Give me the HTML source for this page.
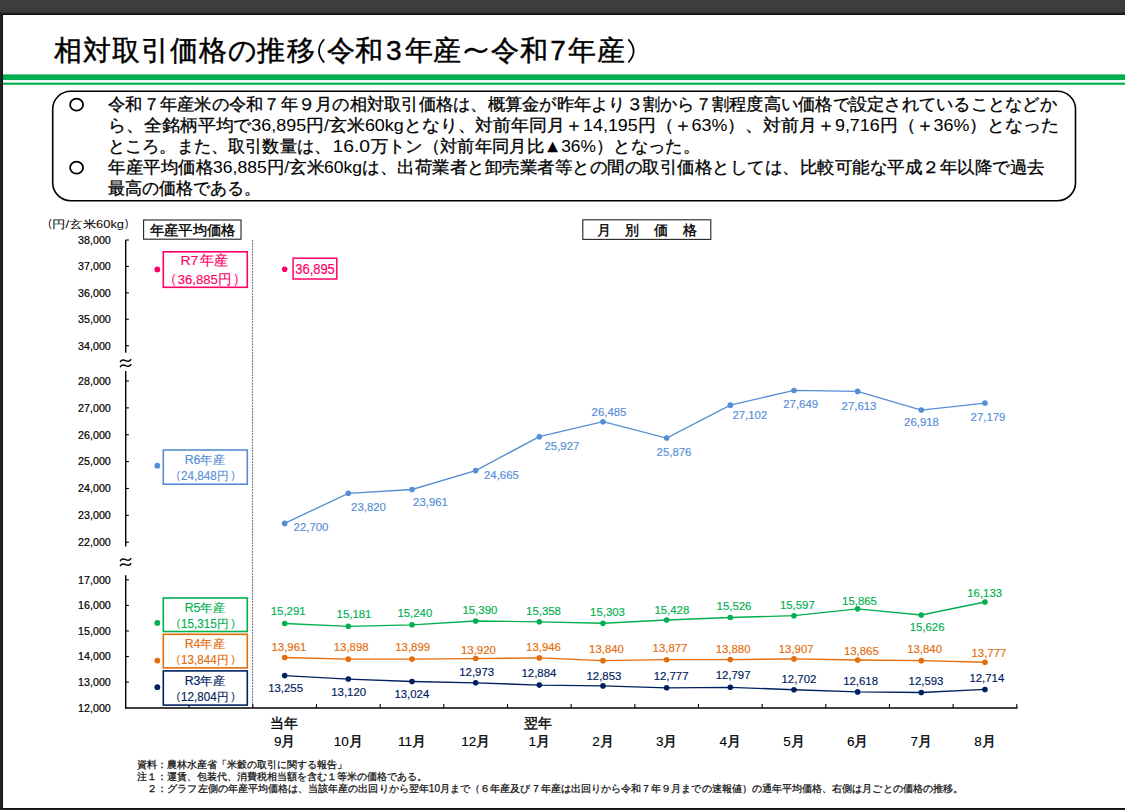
<!DOCTYPE html>
<html><head><meta charset="utf-8"><title>相対取引価格の推移</title>
<style>
html,body{margin:0;padding:0;background:#222;}
body{width:1125px;height:810px;overflow:hidden;font-family:"Liberation Sans", sans-serif;}
svg{display:block;font-family:"Liberation Sans", sans-serif;}
</style></head><body>
<svg width="1125" height="810" viewBox="0 0 1125 810">
<rect x="0" y="0" width="1125" height="810" fill="#222"/>
<rect x="0" y="0" width="1125" height="12.5" fill="#3d3d3d"/>
<rect x="2" y="14" width="1123" height="795" fill="#111"/>
<rect x="3" y="15" width="1122" height="793" fill="#fff"/>
<text x="67.7" y="60" font-size="28" fill="#000" stroke="#000" stroke-width="0.45" text-anchor="middle">相</text>
<text x="96.8" y="60" font-size="28" fill="#000" stroke="#000" stroke-width="0.45" text-anchor="middle">対</text>
<text x="125.9" y="60" font-size="28" fill="#000" stroke="#000" stroke-width="0.45" text-anchor="middle">取</text>
<text x="155.0" y="60" font-size="28" fill="#000" stroke="#000" stroke-width="0.45" text-anchor="middle">引</text>
<text x="184.1" y="60" font-size="28" fill="#000" stroke="#000" stroke-width="0.45" text-anchor="middle">価</text>
<text x="213.2" y="60" font-size="28" fill="#000" stroke="#000" stroke-width="0.45" text-anchor="middle">格</text>
<text x="242.3" y="60" font-size="28" fill="#000" stroke="#000" stroke-width="0.45" text-anchor="middle">の</text>
<text x="271.4" y="60" font-size="28" fill="#000" stroke="#000" stroke-width="0.45" text-anchor="middle">推</text>
<text x="300.5" y="60" font-size="28" fill="#000" stroke="#000" stroke-width="0.45" text-anchor="middle">移</text>
<path d="M324.2 39.3 Q313.8 51 324.2 62.6" fill="none" stroke="#000" stroke-width="1.7"/>
<text x="341.3" y="60" font-size="28" fill="#000" stroke="#000" stroke-width="0.45" text-anchor="middle">令</text>
<text x="369.3" y="60" font-size="28" fill="#000" stroke="#000" stroke-width="0.45" text-anchor="middle">和</text>
<text x="393.8" y="60" font-size="28" fill="#000" stroke="#000" stroke-width="0.45" text-anchor="middle">3</text>
<text x="418.6" y="60" font-size="28" fill="#000" stroke="#000" stroke-width="0.45" text-anchor="middle">年</text>
<text x="447.1" y="60" font-size="28" fill="#000" stroke="#000" stroke-width="0.45" text-anchor="middle">産</text>
<path d="M465.6 52.3 C468.5 48.6 472 48.4 476 50.3 C480 52.3 483.5 52.7 486.4 49.2" fill="none" stroke="#000" stroke-width="2.5" stroke-linecap="round"/>
<text x="505.1" y="60" font-size="28" fill="#000" stroke="#000" stroke-width="0.45" text-anchor="middle">令</text>
<text x="533.5" y="60" font-size="28" fill="#000" stroke="#000" stroke-width="0.45" text-anchor="middle">和</text>
<text x="558.0" y="60" font-size="28" fill="#000" stroke="#000" stroke-width="0.45" text-anchor="middle">7</text>
<text x="582.0" y="60" font-size="28" fill="#000" stroke="#000" stroke-width="0.45" text-anchor="middle">年</text>
<text x="610.8" y="60" font-size="28" fill="#000" stroke="#000" stroke-width="0.45" text-anchor="middle">産</text>
<path d="M628.3 39.4 Q639 51 628.3 62.5" fill="none" stroke="#000" stroke-width="1.7"/>
<rect x="3" y="74.4" width="1122" height="5.7" fill="#00b050"/>
<rect x="3" y="82.6" width="1122" height="2.2" fill="#00b050"/>
<rect x="52.7" y="91.2" width="1022.8" height="109.5" rx="18" ry="18" fill="none" stroke="#000" stroke-width="1.6"/>
<text x="108" y="110.3" font-size="17" fill="#000" stroke="#000" stroke-width="0.3" textLength="949.0" lengthAdjust="spacingAndGlyphs">令和７年産米の令和７年９月の相対取引価格は、概算金が昨年より３割から７割程度高い価格で設定されていることなどか</text>
<text x="108" y="131.2" font-size="17" fill="#000" stroke="#000" stroke-width="0.3" textLength="951.0" lengthAdjust="spacingAndGlyphs">ら、全銘柄平均で<tspan stroke-width="0">36,895</tspan>円<tspan stroke-width="0">/</tspan>玄米<tspan stroke-width="0">60kg</tspan>となり、対前年同月＋<tspan stroke-width="0">14,195</tspan>円（＋<tspan stroke-width="0">63%</tspan>）、対前月＋<tspan stroke-width="0">9,716</tspan>円（＋<tspan stroke-width="0">36%</tspan>）となった</text>
<text x="108" y="152.1" font-size="17" fill="#000" stroke="#000" stroke-width="0.3" textLength="223.0" lengthAdjust="spacingAndGlyphs">ところ。また、取引数量は、</text>
<text x="332.5" y="152.1" font-size="17" fill="#000" stroke="#000" stroke-width="0.3" textLength="37.5" lengthAdjust="spacingAndGlyphs"><tspan stroke-width="0">16.0</tspan></text>
<text x="370.5" y="152.1" font-size="17" fill="#000" stroke="#000" stroke-width="0.3" textLength="329.5" lengthAdjust="spacingAndGlyphs">万トン（対前年同月比▲<tspan stroke-width="0">36%</tspan>）となった。</text>
<text x="108" y="173.0" font-size="17" fill="#000" stroke="#000" stroke-width="0.3" textLength="937.0" lengthAdjust="spacingAndGlyphs">年産平均価格<tspan stroke-width="0">36,885</tspan>円<tspan stroke-width="0">/</tspan>玄米<tspan stroke-width="0">60kg</tspan>は、出荷業者と卸売業者等との間の取引価格としては、比較可能な平成２年以降で過去</text>
<text x="108" y="193.89" font-size="17" fill="#000" stroke="#000" stroke-width="0.3" textLength="153.0" lengthAdjust="spacingAndGlyphs">最高の価格である。</text>
<ellipse cx="76.6" cy="104.7" rx="6.5" ry="6.0" fill="none" stroke="#000" stroke-width="1.8"/>
<ellipse cx="76.6" cy="167.7" rx="6.5" ry="6.0" fill="none" stroke="#000" stroke-width="1.8"/>
<text x="50" y="227.4" font-size="10" fill="#000" text-anchor="middle">(</text>
<text x="52" y="227.6" font-size="10.5" fill="#000" textLength="72" lengthAdjust="spacingAndGlyphs">円/玄米60kg</text>
<text x="126.6" y="227.4" font-size="10" fill="#000" text-anchor="middle">)</text>
<rect x="143.6" y="220" width="97.4" height="19.2" fill="#fff" stroke="#222" stroke-width="1.1"/>
<text x="149.5" y="235" font-size="14.3" fill="#000" stroke="#000" stroke-width="0.35" textLength="86" lengthAdjust="spacingAndGlyphs">年産平均価格</text>
<rect x="582.8" y="219.8" width="128" height="19.6" fill="#fff" stroke="#222" stroke-width="1.1"/>
<text x="597" y="235" font-size="13.5" fill="#000" stroke="#000" stroke-width="0.35">月</text>
<text x="624.8" y="235" font-size="13.5" fill="#000" stroke="#000" stroke-width="0.35">別</text>
<text x="654.4" y="235" font-size="13.5" fill="#000" stroke="#000" stroke-width="0.35">価</text>
<text x="683.2" y="235" font-size="13.5" fill="#000" stroke="#000" stroke-width="0.35">格</text>
<line x1="252.6" y1="240" x2="252.6" y2="708" stroke="#666" stroke-width="1" stroke-dasharray="1.8,1"/>
<line x1="125.7" y1="240" x2="125.7" y2="352.8" stroke="#000" stroke-width="1.4"/>
<line x1="125.7" y1="371.1" x2="125.7" y2="546.6" stroke="#000" stroke-width="1.4"/>
<line x1="125.7" y1="575.3" x2="125.7" y2="708.2" stroke="#000" stroke-width="1.4"/>
<line x1="125.7" y1="240.00" x2="128.9" y2="240.00" stroke="#000" stroke-width="1.1"/>
<text x="110.8" y="243.80" font-size="10.6" fill="#000" stroke="#000" stroke-width="0.2" text-anchor="end" textLength="32.7" lengthAdjust="spacingAndGlyphs">38,000</text>
<line x1="125.7" y1="266.43" x2="128.9" y2="266.43" stroke="#000" stroke-width="1.1"/>
<text x="110.8" y="270.23" font-size="10.6" fill="#000" stroke="#000" stroke-width="0.2" text-anchor="end" textLength="32.7" lengthAdjust="spacingAndGlyphs">37,000</text>
<line x1="125.7" y1="292.85" x2="128.9" y2="292.85" stroke="#000" stroke-width="1.1"/>
<text x="110.8" y="296.65" font-size="10.6" fill="#000" stroke="#000" stroke-width="0.2" text-anchor="end" textLength="32.7" lengthAdjust="spacingAndGlyphs">36,000</text>
<line x1="125.7" y1="319.27" x2="128.9" y2="319.27" stroke="#000" stroke-width="1.1"/>
<text x="110.8" y="323.07" font-size="10.6" fill="#000" stroke="#000" stroke-width="0.2" text-anchor="end" textLength="32.7" lengthAdjust="spacingAndGlyphs">35,000</text>
<line x1="125.7" y1="345.70" x2="128.9" y2="345.70" stroke="#000" stroke-width="1.1"/>
<text x="110.8" y="349.50" font-size="10.6" fill="#000" stroke="#000" stroke-width="0.2" text-anchor="end" textLength="32.7" lengthAdjust="spacingAndGlyphs">34,000</text>
<line x1="125.7" y1="381.00" x2="128.9" y2="381.00" stroke="#000" stroke-width="1.1"/>
<text x="110.8" y="384.80" font-size="10.6" fill="#000" stroke="#000" stroke-width="0.2" text-anchor="end" textLength="32.7" lengthAdjust="spacingAndGlyphs">28,000</text>
<line x1="125.7" y1="407.87" x2="128.9" y2="407.87" stroke="#000" stroke-width="1.1"/>
<text x="110.8" y="411.67" font-size="10.6" fill="#000" stroke="#000" stroke-width="0.2" text-anchor="end" textLength="32.7" lengthAdjust="spacingAndGlyphs">27,000</text>
<line x1="125.7" y1="434.73" x2="128.9" y2="434.73" stroke="#000" stroke-width="1.1"/>
<text x="110.8" y="438.53" font-size="10.6" fill="#000" stroke="#000" stroke-width="0.2" text-anchor="end" textLength="32.7" lengthAdjust="spacingAndGlyphs">26,000</text>
<line x1="125.7" y1="461.60" x2="128.9" y2="461.60" stroke="#000" stroke-width="1.1"/>
<text x="110.8" y="465.40" font-size="10.6" fill="#000" stroke="#000" stroke-width="0.2" text-anchor="end" textLength="32.7" lengthAdjust="spacingAndGlyphs">25,000</text>
<line x1="125.7" y1="488.47" x2="128.9" y2="488.47" stroke="#000" stroke-width="1.1"/>
<text x="110.8" y="492.27" font-size="10.6" fill="#000" stroke="#000" stroke-width="0.2" text-anchor="end" textLength="32.7" lengthAdjust="spacingAndGlyphs">24,000</text>
<line x1="125.7" y1="515.33" x2="128.9" y2="515.33" stroke="#000" stroke-width="1.1"/>
<text x="110.8" y="519.13" font-size="10.6" fill="#000" stroke="#000" stroke-width="0.2" text-anchor="end" textLength="32.7" lengthAdjust="spacingAndGlyphs">23,000</text>
<line x1="125.7" y1="542.20" x2="128.9" y2="542.20" stroke="#000" stroke-width="1.1"/>
<text x="110.8" y="546.00" font-size="10.6" fill="#000" stroke="#000" stroke-width="0.2" text-anchor="end" textLength="32.7" lengthAdjust="spacingAndGlyphs">22,000</text>
<line x1="125.7" y1="579.80" x2="128.9" y2="579.80" stroke="#000" stroke-width="1.1"/>
<text x="110.8" y="583.60" font-size="10.6" fill="#000" stroke="#000" stroke-width="0.2" text-anchor="end" textLength="32.7" lengthAdjust="spacingAndGlyphs">17,000</text>
<line x1="125.7" y1="605.38" x2="128.9" y2="605.38" stroke="#000" stroke-width="1.1"/>
<text x="110.8" y="609.18" font-size="10.6" fill="#000" stroke="#000" stroke-width="0.2" text-anchor="end" textLength="32.7" lengthAdjust="spacingAndGlyphs">16,000</text>
<line x1="125.7" y1="630.96" x2="128.9" y2="630.96" stroke="#000" stroke-width="1.1"/>
<text x="110.8" y="634.76" font-size="10.6" fill="#000" stroke="#000" stroke-width="0.2" text-anchor="end" textLength="32.7" lengthAdjust="spacingAndGlyphs">15,000</text>
<line x1="125.7" y1="656.54" x2="128.9" y2="656.54" stroke="#000" stroke-width="1.1"/>
<text x="110.8" y="660.34" font-size="10.6" fill="#000" stroke="#000" stroke-width="0.2" text-anchor="end" textLength="32.7" lengthAdjust="spacingAndGlyphs">14,000</text>
<line x1="125.7" y1="682.12" x2="128.9" y2="682.12" stroke="#000" stroke-width="1.1"/>
<text x="110.8" y="685.92" font-size="10.6" fill="#000" stroke="#000" stroke-width="0.2" text-anchor="end" textLength="32.7" lengthAdjust="spacingAndGlyphs">13,000</text>
<text x="110.8" y="711.50" font-size="10.6" fill="#000" stroke="#000" stroke-width="0.2" text-anchor="end" textLength="32.7" lengthAdjust="spacingAndGlyphs">12,000</text>
<path d="M120.4 361.7 C121.6 359.6 123.6 359.7 125.6 360.6 S129.6 361.7 130.8 359.6" fill="none" stroke="#000" stroke-width="1.5" stroke-linecap="round"/>
<path d="M120.4 366.7 C121.6 364.6 123.6 364.7 125.6 365.6 S129.6 366.7 130.8 364.6" fill="none" stroke="#000" stroke-width="1.5" stroke-linecap="round"/>
<path d="M120.4 560.7 C121.6 558.6 123.6 558.7 125.6 559.6 S129.6 560.7 130.8 558.6" fill="none" stroke="#000" stroke-width="1.5" stroke-linecap="round"/>
<path d="M120.4 565.7 C121.6 563.6 123.6 563.7 125.6 564.6 S129.6 565.7 130.8 563.6" fill="none" stroke="#000" stroke-width="1.5" stroke-linecap="round"/>
<line x1="125.0" y1="708" x2="1017.5" y2="708" stroke="#000" stroke-width="1.6"/>
<line x1="189.16" y1="708" x2="189.16" y2="704" stroke="#000" stroke-width="1.1"/>
<line x1="252.83" y1="708" x2="252.83" y2="704" stroke="#000" stroke-width="1.1"/>
<line x1="316.49" y1="708" x2="316.49" y2="704" stroke="#000" stroke-width="1.1"/>
<line x1="380.16" y1="708" x2="380.16" y2="704" stroke="#000" stroke-width="1.1"/>
<line x1="443.82" y1="708" x2="443.82" y2="704" stroke="#000" stroke-width="1.1"/>
<line x1="507.49" y1="708" x2="507.49" y2="704" stroke="#000" stroke-width="1.1"/>
<line x1="571.15" y1="708" x2="571.15" y2="704" stroke="#000" stroke-width="1.1"/>
<line x1="634.81" y1="708" x2="634.81" y2="704" stroke="#000" stroke-width="1.1"/>
<line x1="698.48" y1="708" x2="698.48" y2="704" stroke="#000" stroke-width="1.1"/>
<line x1="762.14" y1="708" x2="762.14" y2="704" stroke="#000" stroke-width="1.1"/>
<line x1="825.81" y1="708" x2="825.81" y2="704" stroke="#000" stroke-width="1.1"/>
<line x1="889.47" y1="708" x2="889.47" y2="704" stroke="#000" stroke-width="1.1"/>
<line x1="953.14" y1="708" x2="953.14" y2="704" stroke="#000" stroke-width="1.1"/>
<line x1="1016.80" y1="708" x2="1016.80" y2="704" stroke="#000" stroke-width="1.1"/>
<text x="284.66" y="746.4" font-size="13.5" fill="#000" stroke="#000" stroke-width="0.4" text-anchor="middle"><tspan stroke-width="0.1">9</tspan>月</text>
<text x="348.32" y="746.4" font-size="13.5" fill="#000" stroke="#000" stroke-width="0.4" text-anchor="middle"><tspan stroke-width="0.1">10</tspan>月</text>
<text x="411.99" y="746.4" font-size="13.5" fill="#000" stroke="#000" stroke-width="0.4" text-anchor="middle"><tspan stroke-width="0.1">11</tspan>月</text>
<text x="475.65" y="746.4" font-size="13.5" fill="#000" stroke="#000" stroke-width="0.4" text-anchor="middle"><tspan stroke-width="0.1">12</tspan>月</text>
<text x="539.32" y="746.4" font-size="13.5" fill="#000" stroke="#000" stroke-width="0.4" text-anchor="middle"><tspan stroke-width="0.1">1</tspan>月</text>
<text x="602.98" y="746.4" font-size="13.5" fill="#000" stroke="#000" stroke-width="0.4" text-anchor="middle"><tspan stroke-width="0.1">2</tspan>月</text>
<text x="666.65" y="746.4" font-size="13.5" fill="#000" stroke="#000" stroke-width="0.4" text-anchor="middle"><tspan stroke-width="0.1">3</tspan>月</text>
<text x="730.31" y="746.4" font-size="13.5" fill="#000" stroke="#000" stroke-width="0.4" text-anchor="middle"><tspan stroke-width="0.1">4</tspan>月</text>
<text x="793.97" y="746.4" font-size="13.5" fill="#000" stroke="#000" stroke-width="0.4" text-anchor="middle"><tspan stroke-width="0.1">5</tspan>月</text>
<text x="857.64" y="746.4" font-size="13.5" fill="#000" stroke="#000" stroke-width="0.4" text-anchor="middle"><tspan stroke-width="0.1">6</tspan>月</text>
<text x="921.30" y="746.4" font-size="13.5" fill="#000" stroke="#000" stroke-width="0.4" text-anchor="middle"><tspan stroke-width="0.1">7</tspan>月</text>
<text x="984.97" y="746.4" font-size="13.5" fill="#000" stroke="#000" stroke-width="0.4" text-anchor="middle"><tspan stroke-width="0.1">8</tspan>月</text>
<text x="270.3" y="728" font-size="13.9" fill="#000" stroke="#000" stroke-width="0.35">当年</text>
<text x="523.6" y="728" font-size="14.2" fill="#000" stroke="#000" stroke-width="0.35">翌年</text>
<polyline points="284.66,523.39 348.32,493.30 411.99,489.51 475.65,470.60 539.32,436.69 602.98,421.70 666.65,438.06 730.31,405.13 793.97,390.43 857.64,391.40 921.30,410.07 984.97,403.06" fill="none" stroke="#558ed5" stroke-width="1.35"/>
<polyline points="284.66,623.52 348.32,626.33 411.99,624.82 475.65,620.98 539.32,621.80 602.98,623.21 666.65,620.01 730.31,617.50 793.97,615.69 857.64,608.83 921.30,614.95 984.97,601.98" fill="none" stroke="#00b050" stroke-width="1.35"/>
<polyline points="284.66,657.54 348.32,659.15 411.99,659.12 475.65,658.59 539.32,657.92 602.98,660.63 666.65,659.69 730.31,659.61 793.97,658.92 857.64,659.99 921.30,660.63 984.97,662.24" fill="none" stroke="#e46c0a" stroke-width="1.35"/>
<polyline points="284.66,675.60 348.32,679.05 411.99,681.51 475.65,682.81 539.32,685.09 602.98,685.88 666.65,687.82 730.31,687.31 793.97,689.74 857.64,691.89 921.30,692.53 984.97,689.44" fill="none" stroke="#002060" stroke-width="1.35"/>
<circle cx="284.66" cy="523.39" r="2.8" fill="#558ed5"/>
<circle cx="348.32" cy="493.30" r="2.8" fill="#558ed5"/>
<circle cx="411.99" cy="489.51" r="2.8" fill="#558ed5"/>
<circle cx="475.65" cy="470.60" r="2.8" fill="#558ed5"/>
<circle cx="539.32" cy="436.69" r="2.8" fill="#558ed5"/>
<circle cx="602.98" cy="421.70" r="2.8" fill="#558ed5"/>
<circle cx="666.65" cy="438.06" r="2.8" fill="#558ed5"/>
<circle cx="730.31" cy="405.13" r="2.8" fill="#558ed5"/>
<circle cx="793.97" cy="390.43" r="2.8" fill="#558ed5"/>
<circle cx="857.64" cy="391.40" r="2.8" fill="#558ed5"/>
<circle cx="921.30" cy="410.07" r="2.8" fill="#558ed5"/>
<circle cx="984.97" cy="403.06" r="2.8" fill="#558ed5"/>
<text x="311" y="530.70" font-size="11.4" fill="#558ed5" stroke="#558ed5" stroke-width="0.15" text-anchor="middle">22,700</text>
<text x="368.5" y="510.80" font-size="11.4" fill="#558ed5" stroke="#558ed5" stroke-width="0.15" text-anchor="middle">23,820</text>
<text x="430.5" y="506.10" font-size="11.4" fill="#558ed5" stroke="#558ed5" stroke-width="0.15" text-anchor="middle">23,961</text>
<text x="501.4" y="478.80" font-size="11.4" fill="#558ed5" stroke="#558ed5" stroke-width="0.15" text-anchor="middle">24,665</text>
<text x="561.9" y="449.60" font-size="11.4" fill="#558ed5" stroke="#558ed5" stroke-width="0.15" text-anchor="middle">25,927</text>
<text x="609" y="415.80" font-size="11.4" fill="#558ed5" stroke="#558ed5" stroke-width="0.15" text-anchor="middle">26,485</text>
<text x="674" y="455.90" font-size="11.4" fill="#558ed5" stroke="#558ed5" stroke-width="0.15" text-anchor="middle">25,876</text>
<text x="749.8" y="419.10" font-size="11.4" fill="#558ed5" stroke="#558ed5" stroke-width="0.15" text-anchor="middle">27,102</text>
<text x="800.7" y="408.10" font-size="11.4" fill="#558ed5" stroke="#558ed5" stroke-width="0.15" text-anchor="middle">27,649</text>
<text x="859" y="410.10" font-size="11.4" fill="#558ed5" stroke="#558ed5" stroke-width="0.15" text-anchor="middle">27,613</text>
<text x="921.5" y="426.10" font-size="11.4" fill="#558ed5" stroke="#558ed5" stroke-width="0.15" text-anchor="middle">26,918</text>
<text x="988" y="421.40" font-size="11.4" fill="#558ed5" stroke="#558ed5" stroke-width="0.15" text-anchor="middle">27,179</text>
<circle cx="284.66" cy="623.52" r="2.8" fill="#00b050"/>
<circle cx="348.32" cy="626.33" r="2.8" fill="#00b050"/>
<circle cx="411.99" cy="624.82" r="2.8" fill="#00b050"/>
<circle cx="475.65" cy="620.98" r="2.8" fill="#00b050"/>
<circle cx="539.32" cy="621.80" r="2.8" fill="#00b050"/>
<circle cx="602.98" cy="623.21" r="2.8" fill="#00b050"/>
<circle cx="666.65" cy="620.01" r="2.8" fill="#00b050"/>
<circle cx="730.31" cy="617.50" r="2.8" fill="#00b050"/>
<circle cx="793.97" cy="615.69" r="2.8" fill="#00b050"/>
<circle cx="857.64" cy="608.83" r="2.8" fill="#00b050"/>
<circle cx="921.30" cy="614.95" r="2.8" fill="#00b050"/>
<circle cx="984.97" cy="601.98" r="2.8" fill="#00b050"/>
<text x="288.2" y="615.10" font-size="11.4" fill="#00b050" stroke="#00b050" stroke-width="0.15" text-anchor="middle">15,291</text>
<text x="354" y="617.50" font-size="11.4" fill="#00b050" stroke="#00b050" stroke-width="0.15" text-anchor="middle">15,181</text>
<text x="414.8" y="616.50" font-size="11.4" fill="#00b050" stroke="#00b050" stroke-width="0.15" text-anchor="middle">15,240</text>
<text x="479.9" y="614.00" font-size="11.4" fill="#00b050" stroke="#00b050" stroke-width="0.15" text-anchor="middle">15,390</text>
<text x="543.5" y="614.70" font-size="11.4" fill="#00b050" stroke="#00b050" stroke-width="0.15" text-anchor="middle">15,358</text>
<text x="607.5" y="615.80" font-size="11.4" fill="#00b050" stroke="#00b050" stroke-width="0.15" text-anchor="middle">15,303</text>
<text x="671.8" y="613.60" font-size="11.4" fill="#00b050" stroke="#00b050" stroke-width="0.15" text-anchor="middle">15,428</text>
<text x="734" y="609.70" font-size="11.4" fill="#00b050" stroke="#00b050" stroke-width="0.15" text-anchor="middle">15,526</text>
<text x="797.3" y="609.00" font-size="11.4" fill="#00b050" stroke="#00b050" stroke-width="0.15" text-anchor="middle">15,597</text>
<text x="859.5" y="604.70" font-size="11.4" fill="#00b050" stroke="#00b050" stroke-width="0.15" text-anchor="middle">15,865</text>
<text x="927.1" y="631.40" font-size="11.4" fill="#00b050" stroke="#00b050" stroke-width="0.15" text-anchor="middle">15,626</text>
<text x="984.7" y="596.50" font-size="11.4" fill="#00b050" stroke="#00b050" stroke-width="0.15" text-anchor="middle">16,133</text>
<circle cx="284.66" cy="657.54" r="2.8" fill="#e46c0a"/>
<circle cx="348.32" cy="659.15" r="2.8" fill="#e46c0a"/>
<circle cx="411.99" cy="659.12" r="2.8" fill="#e46c0a"/>
<circle cx="475.65" cy="658.59" r="2.8" fill="#e46c0a"/>
<circle cx="539.32" cy="657.92" r="2.8" fill="#e46c0a"/>
<circle cx="602.98" cy="660.63" r="2.8" fill="#e46c0a"/>
<circle cx="666.65" cy="659.69" r="2.8" fill="#e46c0a"/>
<circle cx="730.31" cy="659.61" r="2.8" fill="#e46c0a"/>
<circle cx="793.97" cy="658.92" r="2.8" fill="#e46c0a"/>
<circle cx="857.64" cy="659.99" r="2.8" fill="#e46c0a"/>
<circle cx="921.30" cy="660.63" r="2.8" fill="#e46c0a"/>
<circle cx="984.97" cy="662.24" r="2.8" fill="#e46c0a"/>
<text x="288.9" y="651.30" font-size="11.4" fill="#e46c0a" stroke="#e46c0a" stroke-width="0.15" text-anchor="middle">13,961</text>
<text x="351.2" y="651.30" font-size="11.4" fill="#e46c0a" stroke="#e46c0a" stroke-width="0.15" text-anchor="middle">13,898</text>
<text x="412.7" y="651.30" font-size="11.4" fill="#e46c0a" stroke="#e46c0a" stroke-width="0.15" text-anchor="middle">13,899</text>
<text x="478.4" y="653.50" font-size="11.4" fill="#e46c0a" stroke="#e46c0a" stroke-width="0.15" text-anchor="middle">13,920</text>
<text x="543.5" y="651.00" font-size="11.4" fill="#e46c0a" stroke="#e46c0a" stroke-width="0.15" text-anchor="middle">13,946</text>
<text x="606.5" y="653.10" font-size="11.4" fill="#e46c0a" stroke="#e46c0a" stroke-width="0.15" text-anchor="middle">13,840</text>
<text x="670" y="651.70" font-size="11.4" fill="#e46c0a" stroke="#e46c0a" stroke-width="0.15" text-anchor="middle">13,877</text>
<text x="733.1" y="653.40" font-size="11.4" fill="#e46c0a" stroke="#e46c0a" stroke-width="0.15" text-anchor="middle">13,880</text>
<text x="796.2" y="653.40" font-size="11.4" fill="#e46c0a" stroke="#e46c0a" stroke-width="0.15" text-anchor="middle">13,907</text>
<text x="861.3" y="654.50" font-size="11.4" fill="#e46c0a" stroke="#e46c0a" stroke-width="0.15" text-anchor="middle">13,865</text>
<text x="924.6" y="653.40" font-size="11.4" fill="#e46c0a" stroke="#e46c0a" stroke-width="0.15" text-anchor="middle">13,840</text>
<text x="988.9" y="657.00" font-size="11.4" fill="#e46c0a" stroke="#e46c0a" stroke-width="0.15" text-anchor="middle">13,777</text>
<circle cx="284.66" cy="675.60" r="2.8" fill="#002060"/>
<circle cx="348.32" cy="679.05" r="2.8" fill="#002060"/>
<circle cx="411.99" cy="681.51" r="2.8" fill="#002060"/>
<circle cx="475.65" cy="682.81" r="2.8" fill="#002060"/>
<circle cx="539.32" cy="685.09" r="2.8" fill="#002060"/>
<circle cx="602.98" cy="685.88" r="2.8" fill="#002060"/>
<circle cx="666.65" cy="687.82" r="2.8" fill="#002060"/>
<circle cx="730.31" cy="687.31" r="2.8" fill="#002060"/>
<circle cx="793.97" cy="689.74" r="2.8" fill="#002060"/>
<circle cx="857.64" cy="691.89" r="2.8" fill="#002060"/>
<circle cx="921.30" cy="692.53" r="2.8" fill="#002060"/>
<circle cx="984.97" cy="689.44" r="2.8" fill="#002060"/>
<text x="285.6" y="692.20" font-size="11.4" fill="#002060" stroke="#002060" stroke-width="0.15" text-anchor="middle">13,255</text>
<text x="348.7" y="695.80" font-size="11.4" fill="#002060" stroke="#002060" stroke-width="0.15" text-anchor="middle">13,120</text>
<text x="411.8" y="697.60" font-size="11.4" fill="#002060" stroke="#002060" stroke-width="0.15" text-anchor="middle">13,024</text>
<text x="476.7" y="675.50" font-size="11.4" fill="#002060" stroke="#002060" stroke-width="0.15" text-anchor="middle">12,973</text>
<text x="538.9" y="677.00" font-size="11.4" fill="#002060" stroke="#002060" stroke-width="0.15" text-anchor="middle">12,884</text>
<text x="603.9" y="679.80" font-size="11.4" fill="#002060" stroke="#002060" stroke-width="0.15" text-anchor="middle">12,853</text>
<text x="671.1" y="680.10" font-size="11.4" fill="#002060" stroke="#002060" stroke-width="0.15" text-anchor="middle">12,777</text>
<text x="733.1" y="679.40" font-size="11.4" fill="#002060" stroke="#002060" stroke-width="0.15" text-anchor="middle">12,797</text>
<text x="798.9" y="682.90" font-size="11.4" fill="#002060" stroke="#002060" stroke-width="0.15" text-anchor="middle">12,702</text>
<text x="860.6" y="684.70" font-size="11.4" fill="#002060" stroke="#002060" stroke-width="0.15" text-anchor="middle">12,618</text>
<text x="926" y="684.70" font-size="11.4" fill="#002060" stroke="#002060" stroke-width="0.15" text-anchor="middle">12,593</text>
<text x="986.8" y="682.30" font-size="11.4" fill="#002060" stroke="#002060" stroke-width="0.15" text-anchor="middle">12,714</text>
<circle cx="284.66" cy="269.20" r="2.8" fill="#ff0066"/>
<rect x="293.1" y="258.2" width="43.7" height="20.8" fill="#fff" stroke="#ff0066" stroke-width="1.5"/>
<text x="295.3" y="274" font-size="13.8" fill="#ff0066" stroke="#ff0066" stroke-width="0.2" textLength="39.5" lengthAdjust="spacingAndGlyphs">36,895</text>
<circle cx="157.33" cy="269.46" r="2.9" fill="#ff0066"/>
<rect x="163.3" y="251.8" width="84" height="35.5" fill="#fff" stroke="#ff0066" stroke-width="1.6"/>
<text x="180.5" y="265.3" font-size="13.5" fill="#ff0066" stroke="#ff0066" stroke-width="0.15" textLength="17.8" lengthAdjust="spacingAndGlyphs">R7</text>
<text x="200.4" y="265.3" font-size="13.5" fill="#ff0066" stroke="#ff0066" stroke-width="0.15" textLength="28.2" lengthAdjust="spacingAndGlyphs">年産</text>
<text x="171.6" y="282.9" font-size="12.2" fill="#ff0066">(</text>
<text x="177.8" y="283.5" font-size="13.5" fill="#ff0066" stroke="#ff0066" stroke-width="0.15" textLength="53.6" lengthAdjust="spacingAndGlyphs">36,885円</text>
<text x="238.4" y="282.9" font-size="12.2" fill="#ff0066" text-anchor="end">)</text>
<circle cx="157.33" cy="465.68" r="2.9" fill="#558ed5"/>
<rect x="163.3" y="450" width="84" height="34.2" fill="#fff" stroke="#558ed5" stroke-width="1.6"/>
<text x="184.70" y="463.8" font-size="12" fill="#558ed5" stroke="#558ed5" stroke-width="0.15" textLength="40.3" lengthAdjust="spacingAndGlyphs">R6年産</text>
<text x="176.4" y="479.0" font-size="10.8" fill="#558ed5">(</text>
<text x="181.1" y="479.6" font-size="12" fill="#558ed5" stroke="#558ed5" stroke-width="0.15" textLength="47.2" lengthAdjust="spacingAndGlyphs">24,848円</text>
<text x="234.8" y="479.0" font-size="10.8" fill="#558ed5" text-anchor="end">)</text>
<circle cx="157.33" cy="622.90" r="2.9" fill="#00b050"/>
<rect x="163.3" y="598" width="84" height="33.5" fill="#fff" stroke="#00b050" stroke-width="1.6"/>
<text x="184.70" y="611.6" font-size="12" fill="#00b050" stroke="#00b050" stroke-width="0.15" textLength="40.3" lengthAdjust="spacingAndGlyphs">R5年産</text>
<text x="176.4" y="627.0" font-size="10.8" fill="#00b050">(</text>
<text x="181.1" y="627.6" font-size="12" fill="#00b050" stroke="#00b050" stroke-width="0.15" textLength="47.2" lengthAdjust="spacingAndGlyphs">15,315円</text>
<text x="234.8" y="627.0" font-size="10.8" fill="#00b050" text-anchor="end">)</text>
<circle cx="157.33" cy="660.53" r="2.9" fill="#e46c0a"/>
<rect x="163.3" y="634.3" width="84" height="33.6" fill="#fff" stroke="#e46c0a" stroke-width="1.6"/>
<text x="184.70" y="648.2" font-size="12" fill="#e46c0a" stroke="#e46c0a" stroke-width="0.15" textLength="40.3" lengthAdjust="spacingAndGlyphs">R4年産</text>
<text x="176.4" y="663.4" font-size="10.8" fill="#e46c0a">(</text>
<text x="181.1" y="664.0" font-size="12" fill="#e46c0a" stroke="#e46c0a" stroke-width="0.15" textLength="47.2" lengthAdjust="spacingAndGlyphs">13,844円</text>
<text x="234.8" y="663.4" font-size="10.8" fill="#e46c0a" text-anchor="end">)</text>
<circle cx="157.33" cy="687.13" r="2.9" fill="#002060"/>
<rect x="163.3" y="670.9" width="84" height="34.2" fill="#fff" stroke="#002060" stroke-width="1.6"/>
<text x="184.70" y="684.8" font-size="12" fill="#002060" stroke="#002060" stroke-width="0.15" textLength="40.3" lengthAdjust="spacingAndGlyphs">R3年産</text>
<text x="176.4" y="700.0" font-size="10.8" fill="#002060">(</text>
<text x="181.1" y="700.6" font-size="12" fill="#002060" stroke="#002060" stroke-width="0.15" textLength="47.2" lengthAdjust="spacingAndGlyphs">12,804円</text>
<text x="234.8" y="700.0" font-size="10.8" fill="#002060" text-anchor="end">)</text>
<text x="137.2" y="767.6" font-size="10" fill="#111" stroke="#111" stroke-width="0.25">資料：農林水産省「米穀の取引に関する報告」</text>
<text x="137.2" y="779.80" font-size="10" fill="#111" stroke="#111" stroke-width="0.25">注１：運賃、包装代、消費税相当額を含む１等米の価格である。</text>
<text x="137.2" y="791.6" font-size="10" fill="#111" stroke="#111" stroke-width="0.25" textLength="825.8" lengthAdjust="spacingAndGlyphs">　２：グラフ左側の年産平均価格は、当該年産の出回りから翌年10月まで（６年産及び７年産は出回りから令和７年９月までの速報値）の通年平均価格、右側は月ごとの価格の推移。</text>
</svg>
</body></html>
